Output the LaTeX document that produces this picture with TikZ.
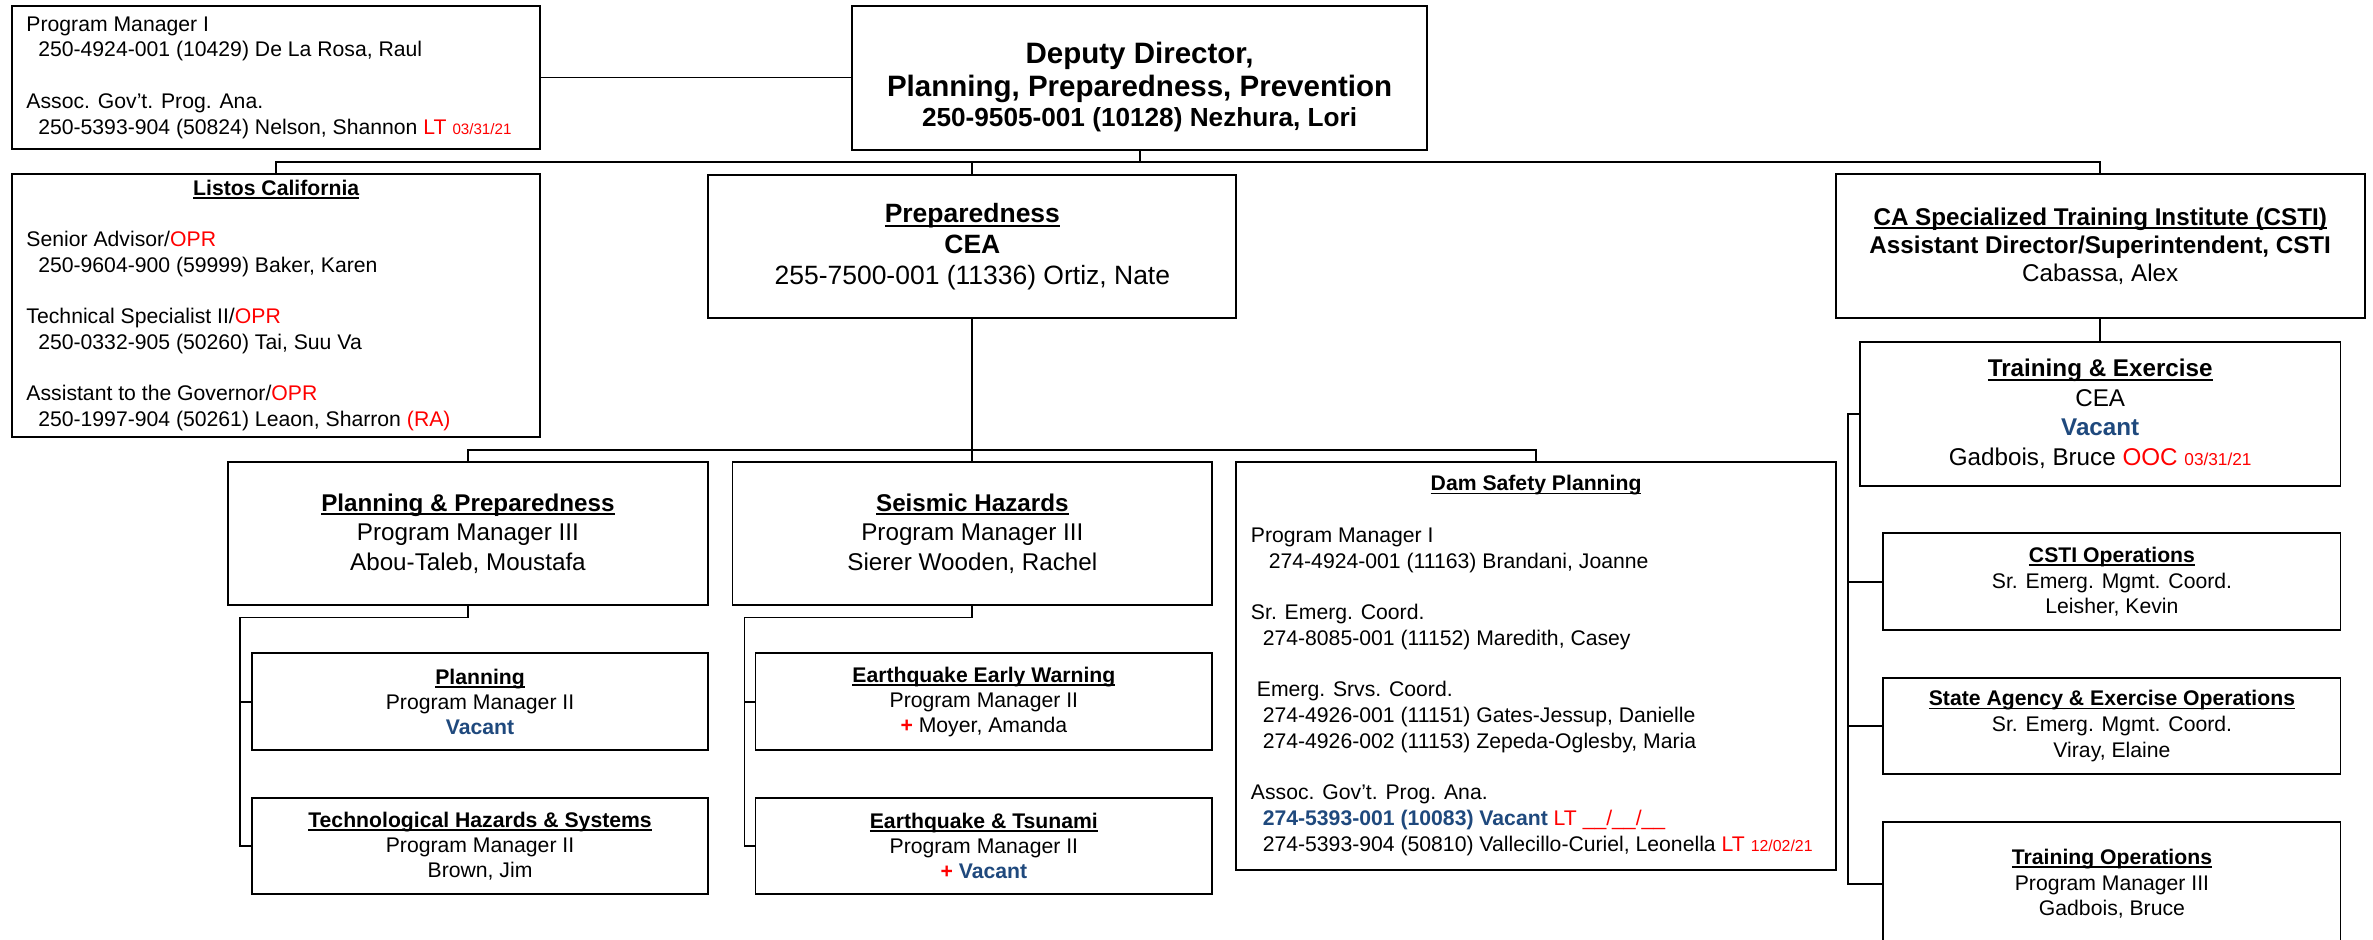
\documentclass[tikz,border=0pt]{standalone}
\usepackage{fontspec}
\setmainfont{Liberation Sans}
\definecolor{vblue}{RGB}{31,73,125}
\definecolor{lred}{RGB}{255,0,0}
\newcommand\ulx[1]{\setbox0\hbox{#1}\rlap{\vrule width\wd0 height -0.09em depth 0.165em}\box0}
\newcommand\myind[1][7.8pt]{\hspace*{#1}}
\begin{document}
\begin{tikzpicture}[x=1pt,y=-1pt,
  box/.style={draw, line width=1.3pt, inner sep=0pt, align=center},
  lbox/.style={draw, line width=1.3pt, inner sep=0pt},
  conn/.style={line width=1.2pt, line join=miter},
  fA/.style={font=\fontsize{14}{17}\selectfont},
  fB/.style={font=\fontsize{14}{16.5}\selectfont},
  fC/.style={font=\fontsize{16}{19.5}\selectfont},
  fD/.style={font=\fontsize{16}{18.5}\selectfont},
  fE/.style={font=\fontsize{17.5}{20.5}\selectfont}]
\useasboundingbox (0,0) rectangle (1568,621);
\clip (0,0) rectangle (1568,621);

% top left
\node[lbox, fA, minimum width=349pt, minimum height=94.5pt] (A) at (182.5,51.25) {\makebox[330pt][l]{\begin{tabular}{@{}l@{}}
Program Manager I\\
\myind 250-4924-001 (10429) De La Rosa, Raul\\
\\
Assoc. Gov’t. Prog. Ana.\\
\myind 250-5393-904 (50824) Nelson, Shannon \textcolor{lred}{LT {\fontsize{10}{12}\selectfont 03/31/21}}
\end{tabular}}};

% deputy director
\node[box, minimum width=380pt, minimum height=95pt, font=\fontsize{19.5}{22}\selectfont\bfseries] (D) at (753,51.5)
  {\rule{0pt}{26pt}Deputy Director,\\ Planning, Preparedness, Prevention\\[-2pt] {\fontsize{17.3}{20}\selectfont 250-9505-001 (10128) Nezhura, Lori}};

% Listos
\node[lbox, fA, minimum width=349pt, minimum height=174pt] (L) at (182.5,202) {\makebox[330pt][l]{\begin{tabular}{@{}l@{}}
\makebox[330pt]{\bfseries\ulx{Listos California}}\\
\\
Senior Advisor/\textcolor{lred}{OPR}\\
\myind 250-9604-900 (59999) Baker, Karen\\
\\
Technical Specialist II/\textcolor{lred}{OPR}\\
\myind 250-0332-905 (50260) Tai, Suu Va\\
\\
Assistant to the Governor/\textcolor{lred}{OPR}\\
\myind 250-1997-904 (50261) Leaon, Sharron \textcolor{lred}{(RA)}
\end{tabular}}};

% Preparedness
\node[box, fE, minimum width=349pt, minimum height=94.5pt] (P) at (642.5,162.75)
  {{\bfseries\ulx{Preparedness}}\\ {\bfseries CEA}\\ 255-7500-001 (11336) Ortiz, Nate};

% CSTI
\node[box, fD, minimum width=349.5pt, minimum height=95pt] (C) at (1387.75,162.5)
  {{\bfseries\ulx{CA Specialized Training Institute (CSTI)}}\\ {\bfseries Assistant Director/Superintendent, CSTI}\\ Cabassa, Alex};

% Training & Exercise
\node[box, fC, minimum width=317.5pt, minimum height=95pt] (T) at (1387.75,273.5)
  {{\bfseries\ulx{Training \& Exercise}}\\ CEA\\ {\bfseries\color{vblue}Vacant}\\ Gadbois, Bruce \textcolor{lred}{OOC {\fontsize{11.4}{13}\selectfont 03/31/21}}};

\node[box, fA, minimum width=302pt, minimum height=64pt] (CO) at (1395.5,384.5)
  {{\bfseries\ulx{CSTI Operations}}\\ Sr. Emerg. Mgmt. Coord.\\ Leisher, Kevin};
\node[box, fA, minimum width=302pt, minimum height=63.5pt] (SA) at (1395.5,479.75)
  {{\bfseries\ulx{State Agency \& Exercise Operations}}\\ Sr. Emerg. Mgmt. Coord.\\ Viray, Elaine};
\node[box, fA, minimum width=302pt, minimum height=82pt] (TO) at (1395.5,584)
  {{\bfseries\ulx{Training Operations}}\\ Program Manager III\\ Gadbois, Bruce};

% middle row
\node[box, fC, minimum width=317.3pt, minimum height=95pt] (PP) at (309.2,352.5)
  {{\bfseries\ulx{Planning \& Preparedness}}\\ Program Manager III\\ Abou-Taleb, Moustafa};
\node[box, fC, minimum width=317pt, minimum height=95pt] (SH) at (642.5,352.5)
  {{\bfseries\ulx{Seismic Hazards}}\\ Program Manager III\\ Sierer Wooden, Rachel};

\node[lbox, fA, minimum width=396.6pt, minimum height=269.4pt] (DS) at (1015,440) {\makebox[376.8pt][l]{\begin{tabular}{@{}l@{}}
\makebox[376.8pt]{\bfseries\ulx{Dam Safety Planning}}\\
\\
Program Manager I\\
\myind[11.8pt]274-4924-001 (11163) Brandani, Joanne\\
\\
Sr. Emerg. Coord.\\
\myind 274-8085-001 (11152) Maredith, Casey\\
\\
\myind[3.9pt]Emerg. Srvs. Coord.\\
\myind 274-4926-001 (11151) Gates-Jessup, Danielle\\
\myind 274-4926-002 (11153) Zepeda-Oglesby, Maria\\
\\
Assoc. Gov’t. Prog. Ana.\\
\myind {\bfseries\color{vblue}274-5393-001 (10083) Vacant} \textcolor{lred}{LT \_\_/\_\_/\_\_}\\
\myind 274-5393-904 (50810) Vallecillo-Curiel, Leonella \textcolor{lred}{LT {\fontsize{10.5}{12}\selectfont 12/02/21}}
\end{tabular}}};

% lower boxes
\node[box, fB, minimum width=301.3pt, minimum height=63.9pt] (PL) at (317.2,463.65)
  {{\bfseries\ulx{Planning}}\\ Program Manager II\\ {\bfseries\color{vblue}Vacant}};
\node[box, fB, minimum width=301.3pt, minimum height=63.7pt] (TH) at (317.2,558.85)
  {{\bfseries\ulx{Technological Hazards \& Systems}}\\ Program Manager II\\ Brown, Jim};
\node[box, fB, minimum width=301.8pt, minimum height=63.9pt] (EEW) at (650.1,463.65)
  {{\bfseries\ulx{Earthquake Early Warning}}\\ Program Manager II\\ {\bfseries\color{lred}+} Moyer, Amanda};
\node[box, fB, minimum width=301.8pt, minimum height=63.7pt] (ET) at (650.1,558.85)
  {{\bfseries\ulx{Earthquake \& Tsunami}}\\ Program Manager II\\ {\bfseries\color{lred}+} {\bfseries\color{vblue}Vacant}};

% connectors
\coordinate (busA) at (0,106.8);
\coordinate (busB) at (0,297.3);
\coordinate (xR) at (1221,0);
\coordinate (yP) at (0,408);
\coordinate (xPP) at (158.7,0);
\coordinate (xSH) at (491.9,0);

\draw[conn] (A.east) -- (A.east -| D.west);
\draw[conn] (D.south) -- (D.south |- busA);
\draw[conn] (L.north) -- (L.north |- busA) -- (C.north |- busA) -- (C.north);
\draw[conn] (P.north |- busA) -- (P.north);
\draw[conn] (P.south) -- (P.south |- busB);
\draw[conn] (PP.north) -- (PP.north |- busB) -- (DS.north |- busB) -- (DS.north);
\draw[conn] (SH.north |- busB) -- (SH.north);
\draw[conn] (C.south) -- (T.north);
\draw[conn] (T.west) -- (T.west -| xR) -- (xR |- TO.west) -- (TO.west);
\draw[conn] (xR |- CO.west) -- (CO.west);
\draw[conn] (xR |- SA.west) -- (SA.west);
\draw[conn] (PP.south) -- (PP.south |- yP) -- (xPP |- yP) -- (xPP |- TH.west) -- (TH.west);
\draw[conn] (xPP |- PL.west) -- (PL.west);
\draw[conn] (SH.south) -- (SH.south |- yP) -- (xSH |- yP) -- (xSH |- ET.west) -- (ET.west);
\draw[conn] (xSH |- EEW.west) -- (EEW.west);
\end{tikzpicture}
\end{document}
